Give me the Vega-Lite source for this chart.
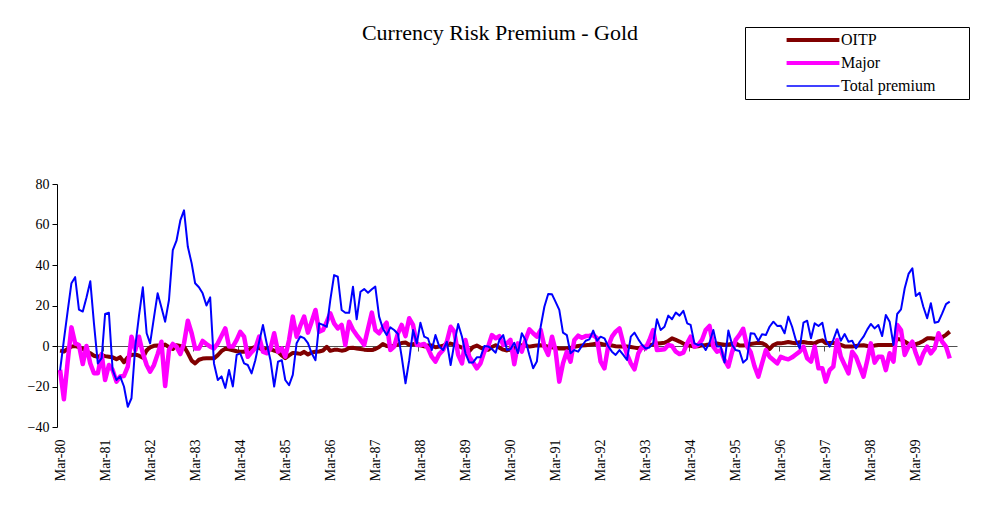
{
  "$schema": "https://vega.github.io/schema/vega-lite/v6.json",
  "width": 900,
  "height": 243,
  "autosize": {"type": "none"},
  "padding": {"left": 57, "top": 184, "right": 27, "bottom": 85},
  "background": "white",
  "title": {"text": "Currency Risk Premium - Gold", "font": "Liberation Serif", "fontSize": 22, "fontWeight": "normal", "color": "black", "anchor": "middle", "frame": "group", "offset": -35, "baseline": "alphabetic", "dx": -7},
  "data": {"values": [
{"d":"1980-03-01","OITP":-2.3,"Major":-11.8,"Total premium":-12},
{"d":"1980-04-01","OITP":-2.7,"Major":-26.3,"Total premium":3},
{"d":"1980-05-01","OITP":-1.5,"Major":-8,"Total premium":17},
{"d":"1980-06-01","OITP":-0.3,"Major":9.2,"Total premium":31},
{"d":"1980-07-01","OITP":0,"Major":1.3,"Total premium":34},
{"d":"1980-08-01","OITP":-0.6,"Major":0.5,"Total premium":18},
{"d":"1980-09-01","OITP":-1.4,"Major":-8.9,"Total premium":17},
{"d":"1980-10-01","OITP":-2.7,"Major":0,"Total premium":24},
{"d":"1980-11-01","OITP":-3.6,"Major":-8.6,"Total premium":32},
{"d":"1980-12-01","OITP":-4.8,"Major":-13.5,"Total premium":11},
{"d":"1981-01-01","OITP":-5.4,"Major":-13.5,"Total premium":-8.6},
{"d":"1981-02-01","OITP":-4.5,"Major":-4,"Total premium":-6},
{"d":"1981-03-01","OITP":-5,"Major":-16.8,"Total premium":15.8},
{"d":"1981-04-01","OITP":-5.3,"Major":-9.4,"Total premium":16.4},
{"d":"1981-05-01","OITP":-5.6,"Major":-11.8,"Total premium":-11.8},
{"d":"1981-06-01","OITP":-6.5,"Major":-17.6,"Total premium":-16.8},
{"d":"1981-07-01","OITP":-5.5,"Major":-15.1,"Total premium":-15},
{"d":"1981-08-01","OITP":-8,"Major":-14.8,"Total premium":-20},
{"d":"1981-09-01","OITP":-5.6,"Major":-10.2,"Total premium":-30},
{"d":"1981-10-01","OITP":-4.4,"Major":4.6,"Total premium":-25.8},
{"d":"1981-11-01","OITP":-4.2,"Major":-2,"Total premium":0},
{"d":"1981-12-01","OITP":-4.8,"Major":4.6,"Total premium":15},
{"d":"1982-01-01","OITP":-5.8,"Major":-3.6,"Total premium":29},
{"d":"1982-02-01","OITP":-2.1,"Major":-9.4,"Total premium":6.3},
{"d":"1982-03-01","OITP":-0.7,"Major":-12.7,"Total premium":1.3},
{"d":"1982-04-01","OITP":0.1,"Major":-9.4,"Total premium":14},
{"d":"1982-05-01","OITP":0.3,"Major":-4,"Total premium":26},
{"d":"1982-06-01","OITP":-0.3,"Major":2.1,"Total premium":19},
{"d":"1982-07-01","OITP":0.7,"Major":-19.8,"Total premium":12},
{"d":"1982-08-01","OITP":-0.6,"Major":-2,"Total premium":22.7},
{"d":"1982-09-01","OITP":-1.5,"Major":1,"Total premium":47.4},
{"d":"1982-10-01","OITP":0.4,"Major":-0.3,"Total premium":52},
{"d":"1982-11-01","OITP":0,"Major":-4,"Total premium":62},
{"d":"1982-12-01","OITP":-0.3,"Major":1.3,"Total premium":67},
{"d":"1983-01-01","OITP":-3.5,"Major":12.5,"Total premium":49},
{"d":"1983-02-01","OITP":-7.2,"Major":6.3,"Total premium":40.8},
{"d":"1983-03-01","OITP":-8.6,"Major":-1.2,"Total premium":31},
{"d":"1983-04-01","OITP":-6.8,"Major":-1.2,"Total premium":29},
{"d":"1983-05-01","OITP":-6.2,"Major":2.5,"Total premium":26},
{"d":"1983-06-01","OITP":-6.1,"Major":1,"Total premium":20},
{"d":"1983-07-01","OITP":-6.1,"Major":-0.3,"Total premium":24},
{"d":"1983-08-01","OITP":-6.1,"Major":-1.2,"Total premium":-8.6},
{"d":"1983-09-01","OITP":-4.5,"Major":1.3,"Total premium":-16.8},
{"d":"1983-10-01","OITP":-2.5,"Major":5,"Total premium":-15},
{"d":"1983-11-01","OITP":-1.4,"Major":8.7,"Total premium":-20.7},
{"d":"1983-12-01","OITP":-1.6,"Major":-0.3,"Total premium":-11.8},
{"d":"1984-01-01","OITP":-2.1,"Major":-0.3,"Total premium":-20},
{"d":"1984-02-01","OITP":-2.6,"Major":3,"Total premium":-4.4},
{"d":"1984-03-01","OITP":-2.8,"Major":7,"Total premium":-3.6},
{"d":"1984-04-01","OITP":-2.8,"Major":4.6,"Total premium":-8.6},
{"d":"1984-05-01","OITP":-2,"Major":-5.3,"Total premium":-9.4},
{"d":"1984-06-01","OITP":-1.2,"Major":-3,"Total premium":-13.5},
{"d":"1984-07-01","OITP":-0.4,"Major":-1.2,"Total premium":-7},
{"d":"1984-08-01","OITP":-1,"Major":4.6,"Total premium":2},
{"d":"1984-09-01","OITP":-1.9,"Major":-2.8,"Total premium":10.4},
{"d":"1984-10-01","OITP":-1.3,"Major":-3.6,"Total premium":1.4},
{"d":"1984-11-01","OITP":-1.6,"Major":-1.2,"Total premium":-7},
{"d":"1984-12-01","OITP":-2.3,"Major":6.3,"Total premium":-20},
{"d":"1985-01-01","OITP":-2.9,"Major":-2.8,"Total premium":-7.8},
{"d":"1985-02-01","OITP":-4.7,"Major":-1.2,"Total premium":-7},
{"d":"1985-03-01","OITP":-6,"Major":-5.3,"Total premium":-16.8},
{"d":"1985-04-01","OITP":-4.6,"Major":3,"Total premium":-19.3},
{"d":"1985-05-01","OITP":-3.4,"Major":14.5,"Total premium":-14.3},
{"d":"1985-06-01","OITP":-3.6,"Major":4.6,"Total premium":1.4},
{"d":"1985-07-01","OITP":-3.9,"Major":10,"Total premium":4.7},
{"d":"1985-08-01","OITP":-2.9,"Major":14.5,"Total premium":3.9},
{"d":"1985-09-01","OITP":-4.2,"Major":6.6,"Total premium":1.4},
{"d":"1985-10-01","OITP":-3.2,"Major":12,"Total premium":-3.6},
{"d":"1985-11-01","OITP":-2.8,"Major":17.8,"Total premium":-7},
{"d":"1985-12-01","OITP":-2.7,"Major":7,"Total premium":11.2},
{"d":"1986-01-01","OITP":-2.2,"Major":7.9,"Total premium":10.4},
{"d":"1986-02-01","OITP":-0.4,"Major":12,"Total premium":9.5},
{"d":"1986-03-01","OITP":-2.4,"Major":16.1,"Total premium":22.7},
{"d":"1986-04-01","OITP":-1.9,"Major":11.2,"Total premium":35},
{"d":"1986-05-01","OITP":-1.9,"Major":8.7,"Total premium":34.2},
{"d":"1986-06-01","OITP":-2.3,"Major":10.4,"Total premium":17.8},
{"d":"1986-07-01","OITP":-2,"Major":0.5,"Total premium":16.4},
{"d":"1986-08-01","OITP":-1,"Major":12,"Total premium":16.4},
{"d":"1986-09-01","OITP":-0.9,"Major":8,"Total premium":29.3},
{"d":"1986-10-01","OITP":-1.2,"Major":5.4,"Total premium":13.2},
{"d":"1986-11-01","OITP":-1.5,"Major":3,"Total premium":26.8},
{"d":"1986-12-01","OITP":-1.8,"Major":0.5,"Total premium":28.1},
{"d":"1987-01-01","OITP":-2,"Major":8.5,"Total premium":26.3},
{"d":"1987-02-01","OITP":-2,"Major":16.5,"Total premium":28},
{"d":"1987-03-01","OITP":-1.5,"Major":7.9,"Total premium":29.3},
{"d":"1987-04-01","OITP":-0.5,"Major":6.3,"Total premium":14.5},
{"d":"1987-05-01","OITP":1,"Major":9,"Total premium":8.7},
{"d":"1987-06-01","OITP":0,"Major":11.5,"Total premium":5.4},
{"d":"1987-07-01","OITP":-0.2,"Major":-2,"Total premium":9.2},
{"d":"1987-08-01","OITP":0.2,"Major":-0.3,"Total premium":7.9},
{"d":"1987-09-01","OITP":0.7,"Major":6.3,"Total premium":5.9},
{"d":"1987-10-01","OITP":1.5,"Major":10.4,"Total premium":-5.3},
{"d":"1987-11-01","OITP":1.7,"Major":4.9,"Total premium":-18.4},
{"d":"1987-12-01","OITP":0.6,"Major":13.7,"Total premium":-7},
{"d":"1988-01-01","OITP":0.9,"Major":10.4,"Total premium":7.9},
{"d":"1988-02-01","OITP":1.2,"Major":0.5,"Total premium":1.3},
{"d":"1988-03-01","OITP":0.3,"Major":0.5,"Total premium":11.5},
{"d":"1988-04-01","OITP":-0.2,"Major":1,"Total premium":4.6},
{"d":"1988-05-01","OITP":0.3,"Major":-1.2,"Total premium":3.8},
{"d":"1988-06-01","OITP":0.2,"Major":-5.3,"Total premium":-2},
{"d":"1988-07-01","OITP":-0.6,"Major":-7.7,"Total premium":5.4},
{"d":"1988-08-01","OITP":-0.3,"Major":-4,"Total premium":-0.3},
{"d":"1988-09-01","OITP":0.2,"Major":-2,"Total premium":-2},
{"d":"1988-10-01","OITP":0.9,"Major":2.1,"Total premium":2.1},
{"d":"1988-11-01","OITP":1.2,"Major":9.5,"Total premium":-9.4},
{"d":"1988-12-01","OITP":0.7,"Major":7.1,"Total premium":1.3},
{"d":"1989-01-01","OITP":0,"Major":-4.4,"Total premium":10.9},
{"d":"1989-02-01","OITP":-0.8,"Major":-8.6,"Total premium":4.6},
{"d":"1989-03-01","OITP":-1.8,"Major":3,"Total premium":-3.6},
{"d":"1989-04-01","OITP":-2.6,"Major":-5.3,"Total premium":-8.2},
{"d":"1989-05-01","OITP":-0.5,"Major":-8,"Total premium":-8.2},
{"d":"1989-06-01","OITP":0.2,"Major":-11,"Total premium":-5.6},
{"d":"1989-07-01","OITP":-0.8,"Major":-8.6,"Total premium":-5.6},
{"d":"1989-08-01","OITP":-1.5,"Major":-2.8,"Total premium":0},
{"d":"1989-09-01","OITP":-1.9,"Major":-0.3,"Total premium":-0.2},
{"d":"1989-10-01","OITP":-0.5,"Major":5.4,"Total premium":-1.5},
{"d":"1989-11-01","OITP":0.4,"Major":3.8,"Total premium":-3.3},
{"d":"1989-12-01","OITP":-0.8,"Major":4.9,"Total premium":3},
{"d":"1990-01-01","OITP":-1.8,"Major":0.5,"Total premium":5.4},
{"d":"1990-02-01","OITP":-2.2,"Major":1.3,"Total premium":-2},
{"d":"1990-03-01","OITP":-1.6,"Major":3,"Total premium":-1.6},
{"d":"1990-04-01","OITP":-1.2,"Major":-9,"Total premium":1.6},
{"d":"1990-05-01","OITP":-0.5,"Major":1.3,"Total premium":-3.5},
{"d":"1990-06-01","OITP":0.4,"Major":-2.8,"Total premium":6.3},
{"d":"1990-07-01","OITP":0.2,"Major":3,"Total premium":3},
{"d":"1990-08-01","OITP":-0.3,"Major":8.2,"Total premium":-4.4},
{"d":"1990-09-01","OITP":0,"Major":6.3,"Total premium":-11},
{"d":"1990-10-01","OITP":0.3,"Major":4.6,"Total premium":-7.7},
{"d":"1990-11-01","OITP":0.4,"Major":7.9,"Total premium":9.5},
{"d":"1990-12-01","OITP":0.1,"Major":-0.3,"Total premium":19.4},
{"d":"1991-01-01","OITP":-0.3,"Major":-4.4,"Total premium":25.7},
{"d":"1991-02-01","OITP":-0.6,"Major":4.6,"Total premium":25.5},
{"d":"1991-03-01","OITP":-1,"Major":-2,"Total premium":21.9},
{"d":"1991-04-01","OITP":-1.2,"Major":-17.6,"Total premium":17.8},
{"d":"1991-05-01","OITP":-1.2,"Major":-8.6,"Total premium":6.6},
{"d":"1991-06-01","OITP":-1.2,"Major":-2.8,"Total premium":5.4},
{"d":"1991-07-01","OITP":-0.9,"Major":-7.7,"Total premium":-3.6},
{"d":"1991-08-01","OITP":-0.4,"Major":3,"Total premium":-2},
{"d":"1991-09-01","OITP":0,"Major":5.1,"Total premium":-2.8},
{"d":"1991-10-01","OITP":0.2,"Major":4.1,"Total premium":0},
{"d":"1991-11-01","OITP":0.4,"Major":4.9,"Total premium":2.6},
{"d":"1991-12-01","OITP":0.6,"Major":5.1,"Total premium":3.3},
{"d":"1992-01-01","OITP":0.9,"Major":5.4,"Total premium":7.6},
{"d":"1992-02-01","OITP":1.2,"Major":3.8,"Total premium":2.6},
{"d":"1992-03-01","OITP":1.1,"Major":-7.7,"Total premium":4.6},
{"d":"1992-04-01","OITP":0.7,"Major":-11,"Total premium":3.8},
{"d":"1992-05-01","OITP":0.5,"Major":-0.3,"Total premium":0},
{"d":"1992-06-01","OITP":0.2,"Major":4.6,"Total premium":-2.8},
{"d":"1992-07-01","OITP":-0.1,"Major":7.1,"Total premium":-4.4},
{"d":"1992-08-01","OITP":-0.3,"Major":8.7,"Total premium":-2},
{"d":"1992-09-01","OITP":-0.3,"Major":1.3,"Total premium":-4.4},
{"d":"1992-10-01","OITP":-0.3,"Major":-4,"Total premium":-6.9},
{"d":"1992-11-01","OITP":-0.5,"Major":-8.6,"Total premium":4.6},
{"d":"1992-12-01","OITP":-0.8,"Major":-11.5,"Total premium":6.6},
{"d":"1993-01-01","OITP":-1.1,"Major":-3.6,"Total premium":3.3},
{"d":"1993-02-01","OITP":-0.6,"Major":-0.3,"Total premium":0.5},
{"d":"1993-03-01","OITP":-0.2,"Major":-1.2,"Total premium":-1.2},
{"d":"1993-04-01","OITP":0.3,"Major":3,"Total premium":-0.7},
{"d":"1993-05-01","OITP":0.8,"Major":7.9,"Total premium":1.3},
{"d":"1993-06-01","OITP":1.2,"Major":-2,"Total premium":13.2},
{"d":"1993-07-01","OITP":1.4,"Major":-1.8,"Total premium":7.9},
{"d":"1993-08-01","OITP":1.6,"Major":-1.6,"Total premium":9.5},
{"d":"1993-09-01","OITP":2.5,"Major":0.5,"Total premium":15},
{"d":"1993-10-01","OITP":3.8,"Major":0,"Total premium":13.2},
{"d":"1993-11-01","OITP":3,"Major":-2.8,"Total premium":16.5},
{"d":"1993-12-01","OITP":2.2,"Major":-4,"Total premium":15},
{"d":"1994-01-01","OITP":1.2,"Major":-3.3,"Total premium":17.4},
{"d":"1994-02-01","OITP":0.4,"Major":1.3,"Total premium":11.2},
{"d":"1994-03-01","OITP":0.1,"Major":4.6,"Total premium":10.4},
{"d":"1994-04-01","OITP":-0.2,"Major":-0.3,"Total premium":1.3},
{"d":"1994-05-01","OITP":-0.1,"Major":0.5,"Total premium":0.5},
{"d":"1994-06-01","OITP":0.3,"Major":3,"Total premium":1},
{"d":"1994-07-01","OITP":0.5,"Major":7.9,"Total premium":-2},
{"d":"1994-08-01","OITP":0.8,"Major":9.9,"Total premium":1.6},
{"d":"1994-09-01","OITP":1.1,"Major":-0.3,"Total premium":7.9},
{"d":"1994-10-01","OITP":1.2,"Major":-2.8,"Total premium":-0.3},
{"d":"1994-11-01","OITP":0.9,"Major":-2,"Total premium":-0.3},
{"d":"1994-12-01","OITP":0.6,"Major":-6.9,"Total premium":-8.2},
{"d":"1995-01-01","OITP":0.8,"Major":-10.2,"Total premium":7.6},
{"d":"1995-02-01","OITP":1.1,"Major":-2.8,"Total premium":0.5},
{"d":"1995-03-01","OITP":1.3,"Major":3,"Total premium":-2},
{"d":"1995-04-01","OITP":0.3,"Major":5.5,"Total premium":-2.5},
{"d":"1995-05-01","OITP":0.2,"Major":8.5,"Total premium":-8.2},
{"d":"1995-06-01","OITP":0.5,"Major":0,"Total premium":-6.4},
{"d":"1995-07-01","OITP":1,"Major":-3,"Total premium":6.3},
{"d":"1995-08-01","OITP":1.3,"Major":-10,"Total premium":6},
{"d":"1995-09-01","OITP":1.6,"Major":-15.1,"Total premium":2.5},
{"d":"1995-10-01","OITP":1.4,"Major":-8.6,"Total premium":5.8},
{"d":"1995-11-01","OITP":0.5,"Major":-2,"Total premium":5.4},
{"d":"1995-12-01","OITP":-1.5,"Major":-5.3,"Total premium":9.5},
{"d":"1996-01-01","OITP":0.5,"Major":-6.9,"Total premium":12},
{"d":"1996-02-01","OITP":1.3,"Major":-8.6,"Total premium":9.9},
{"d":"1996-03-01","OITP":1.3,"Major":-5.3,"Total premium":10},
{"d":"1996-04-01","OITP":1.6,"Major":-6.1,"Total premium":6.3},
{"d":"1996-05-01","OITP":2,"Major":-6.6,"Total premium":14.5},
{"d":"1996-06-01","OITP":1.6,"Major":-5.6,"Total premium":9.5},
{"d":"1996-07-01","OITP":1.4,"Major":-4.2,"Total premium":3},
{"d":"1996-08-01","OITP":1.9,"Major":-2.8,"Total premium":-1.2},
{"d":"1996-09-01","OITP":2,"Major":-0.3,"Total premium":11.5},
{"d":"1996-10-01","OITP":1.6,"Major":-6.1,"Total premium":12.5},
{"d":"1996-11-01","OITP":1.5,"Major":-7.7,"Total premium":3.8},
{"d":"1996-12-01","OITP":1.3,"Major":-0.3,"Total premium":11.2},
{"d":"1997-01-01","OITP":2.3,"Major":-11,"Total premium":9.9},
{"d":"1997-02-01","OITP":2.8,"Major":-11,"Total premium":11.5},
{"d":"1997-03-01","OITP":1.4,"Major":-17.6,"Total premium":3},
{"d":"1997-04-01","OITP":1.5,"Major":-11.9,"Total premium":-0.3},
{"d":"1997-05-01","OITP":1.5,"Major":-10.2,"Total premium":3},
{"d":"1997-06-01","OITP":1.3,"Major":3,"Total premium":8.2},
{"d":"1997-07-01","OITP":0.6,"Major":-5.3,"Total premium":2.6},
{"d":"1997-08-01","OITP":-0.2,"Major":-9.4,"Total premium":5.9},
{"d":"1997-09-01","OITP":-0.3,"Major":-13.5,"Total premium":2.1},
{"d":"1997-10-01","OITP":-0.3,"Major":-2.8,"Total premium":2.6},
{"d":"1997-11-01","OITP":0,"Major":-5.3,"Total premium":-1.2},
{"d":"1997-12-01","OITP":0.3,"Major":-10.2,"Total premium":2.1},
{"d":"1998-01-01","OITP":0.4,"Major":-15.1,"Total premium":4.6},
{"d":"1998-02-01","OITP":0,"Major":-6.9,"Total premium":8.2},
{"d":"1998-03-01","OITP":-0.2,"Major":1.3,"Total premium":10.9},
{"d":"1998-04-01","OITP":0.2,"Major":-8.2,"Total premium":8.7},
{"d":"1998-05-01","OITP":0.5,"Major":-5.3,"Total premium":10.4},
{"d":"1998-06-01","OITP":0.5,"Major":-5.3,"Total premium":4.9},
{"d":"1998-07-01","OITP":0.5,"Major":-11.9,"Total premium":15.3},
{"d":"1998-08-01","OITP":0.5,"Major":-3.6,"Total premium":12},
{"d":"1998-09-01","OITP":0.5,"Major":-7.7,"Total premium":0.5},
{"d":"1998-10-01","OITP":3.5,"Major":10.4,"Total premium":15.8},
{"d":"1998-11-01","OITP":3.2,"Major":7.9,"Total premium":18.1},
{"d":"1998-12-01","OITP":2.2,"Major":-4.4,"Total premium":28.5},
{"d":"1999-01-01","OITP":1,"Major":-0.3,"Total premium":35.6},
{"d":"1999-02-01","OITP":-0.2,"Major":2.1,"Total premium":38.4},
{"d":"1999-03-01","OITP":0.9,"Major":-3.6,"Total premium":24.7},
{"d":"1999-04-01","OITP":1.6,"Major":-8.6,"Total premium":26.3},
{"d":"1999-05-01","OITP":2.5,"Major":-3.6,"Total premium":19.4},
{"d":"1999-06-01","OITP":3.8,"Major":-0.3,"Total premium":13.7},
{"d":"1999-07-01","OITP":3.8,"Major":-3.6,"Total premium":21.1},
{"d":"1999-08-01","OITP":3.6,"Major":-1.2,"Total premium":11.5},
{"d":"1999-09-01","OITP":3.4,"Major":6.3,"Total premium":12},
{"d":"1999-10-01","OITP":4.3,"Major":2.1,"Total premium":16.1},
{"d":"1999-11-01","OITP":5.5,"Major":-0.3,"Total premium":20.7},
{"d":"1999-12-01","OITP":7.1,"Major":-6.1,"Total premium":21.9}
  ]},
  "transform": [
    {"fold": ["OITP", "Major", "Total premium"], "as": ["series", "value"]}
  ],
  "resolve": {"axis": {"x": "independent", "y": "independent"}},
  "layer": [
    {
      "transform": [{"filter": "datum.series == 'OITP'"}],
      "mark": {"type": "line", "strokeWidth": 4, "strokeJoin": "round"},
      "encoding": {
        "x": {"field": "d", "type": "temporal",
          "scale": {"type": "utc", "domain": [{"year": 1980, "month": 2, "date": 5, "utc": true}, {"year": 2000, "month": 1, "date": 29, "utc": true}]},
          "axis": {"orient": "bottom", "title": null, "labelExpr": "utcFormat(datum.value, '%b-%y')", "labelAngle": 270, "labelPadding": 12, "ticks": false, "domain": false, "grid": false, "labelFont": "Liberation Serif", "labelFontSize": 14, "labelColor": "black", "labelOverlap": false, "labelFlush": false,
            "values": [
              {"year": 1980, "month": 3, "date": 1, "utc": true}, {"year": 1981, "month": 3, "date": 1, "utc": true}, {"year": 1982, "month": 3, "date": 1, "utc": true}, {"year": 1983, "month": 3, "date": 1, "utc": true}, {"year": 1984, "month": 3, "date": 1, "utc": true},
              {"year": 1985, "month": 3, "date": 1, "utc": true}, {"year": 1986, "month": 3, "date": 1, "utc": true}, {"year": 1987, "month": 3, "date": 1, "utc": true}, {"year": 1988, "month": 3, "date": 1, "utc": true}, {"year": 1989, "month": 3, "date": 1, "utc": true},
              {"year": 1990, "month": 3, "date": 1, "utc": true}, {"year": 1991, "month": 3, "date": 1, "utc": true}, {"year": 1992, "month": 3, "date": 1, "utc": true}, {"year": 1993, "month": 3, "date": 1, "utc": true}, {"year": 1994, "month": 3, "date": 1, "utc": true},
              {"year": 1995, "month": 3, "date": 1, "utc": true}, {"year": 1996, "month": 3, "date": 1, "utc": true}, {"year": 1997, "month": 3, "date": 1, "utc": true}, {"year": 1998, "month": 3, "date": 1, "utc": true}, {"year": 1999, "month": 3, "date": 1, "utc": true}
            ]}},
        "y": {"field": "value", "type": "quantitative",
          "scale": {"domain": [-40, 80], "nice": false, "zero": false},
          "axis": {"orient": "left", "title": null, "values": [-40, -20, 0, 20, 40, 60, 80], "grid": false, "domainColor": "black", "tickColor": "black", "tickSize": 5, "labelFont": "Liberation Serif", "labelFontSize": 14, "labelColor": "black", "labelPadding": 3}},
        "color": {"field": "series", "type": "nominal",
          "scale": {"domain": ["OITP", "Major", "Total premium"], "range": ["#800000", "#FF00FF", "#0000FF"]},
          "legend": {"orient": "none", "legendX": 688, "legendY": -157, "title": null, "direction": "vertical", "strokeColor": "black", "fillColor": "white", "padding": 5, "symbolType": "M-3.3,0H3.3", "symbolSize": 256, "symbolOffset": 55, "labelOffset": 20, "rowPadding": 7, "labelFont": "Liberation Serif", "labelFontSize": 16, "labelColor": "black", "labelLimit": 400,
            "labelExpr": "datum.label == 'Total premium' ? datum.label + '\u00a0\u00a0\u00a0\u00a0\u00a0\u00a0\u00a0\u200b' : datum.label",
            "encode": {"symbols": {"update": {"strokeWidth": {"signal": "datum.value == 'Total premium' ? 1.5 : 4"}}}}}}
      }
    },
    {
      "transform": [{"filter": "datum.series == 'Major'"}],
      "mark": {"type": "line", "strokeWidth": 4.5, "strokeJoin": "round"},
      "encoding": {
        "x": {"field": "d", "type": "temporal", "axis": null},
        "y": {"field": "value", "type": "quantitative", "axis": null},
        "color": {"field": "series", "type": "nominal"}
      }
    },
    {
      "transform": [{"filter": "datum.series == 'Total premium'"}],
      "mark": {"type": "line", "strokeWidth": 2, "strokeJoin": "round"},
      "encoding": {
        "x": {"field": "d", "type": "temporal",
          "axis": {"orient": "top", "offset": -162, "title": null, "labels": false, "grid": false, "domain": true, "domainColor": "#505050", "ticks": true, "tickSize": -5, "tickColor": "#505050",
            "values": [
              {"year": 1981, "month": 2, "date": 14, "utc": true}, {"year": 1982, "month": 2, "date": 14, "utc": true}, {"year": 1983, "month": 2, "date": 14, "utc": true}, {"year": 1984, "month": 2, "date": 14, "utc": true},
              {"year": 1985, "month": 2, "date": 14, "utc": true}, {"year": 1986, "month": 2, "date": 14, "utc": true}, {"year": 1987, "month": 2, "date": 14, "utc": true}, {"year": 1988, "month": 2, "date": 14, "utc": true}, {"year": 1989, "month": 2, "date": 14, "utc": true},
              {"year": 1990, "month": 2, "date": 14, "utc": true}, {"year": 1991, "month": 2, "date": 14, "utc": true}, {"year": 1992, "month": 2, "date": 14, "utc": true}, {"year": 1993, "month": 2, "date": 14, "utc": true}, {"year": 1994, "month": 2, "date": 14, "utc": true},
              {"year": 1995, "month": 2, "date": 14, "utc": true}, {"year": 1996, "month": 2, "date": 14, "utc": true}, {"year": 1997, "month": 2, "date": 14, "utc": true}, {"year": 1998, "month": 2, "date": 14, "utc": true}, {"year": 1999, "month": 2, "date": 14, "utc": true}
            ]}},
        "y": {"field": "value", "type": "quantitative", "axis": null},
        "color": {"field": "series", "type": "nominal"}
      }
    }
  ],
  "config": {"view": {"stroke": null}}
}
